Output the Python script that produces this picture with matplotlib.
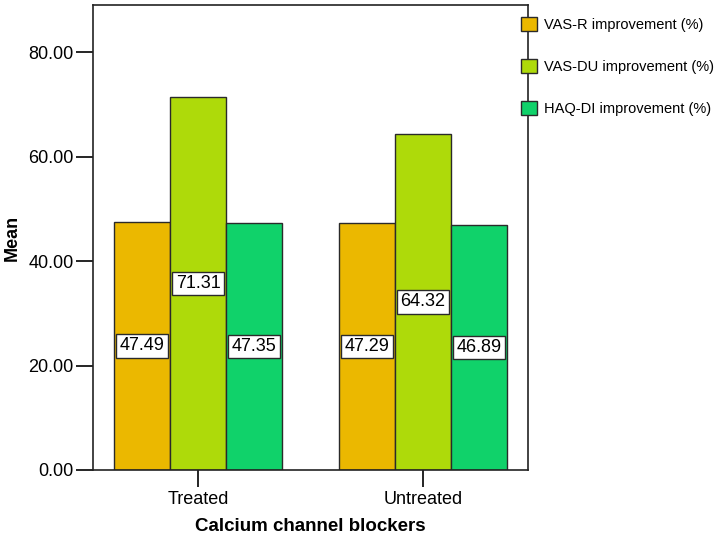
import matplotlib
matplotlib.use("Agg")
import matplotlib.pyplot as plt
import numpy as np
from matplotlib.patches import Patch

plt.rcParams['font.family'] = ['Liberation Sans', 'DejaVu Sans']

categories = ["Treated", "Untreated"]
series_names = ["VAS-R improvement (%)", "VAS-DU improvement (%)", "HAQ-DI improvement (%)"]
vas_r = [47.49, 47.29]
vas_du = [71.31, 64.32]
haq_di = [47.35, 46.89]
colors = ["#EBB800", "#AEDA0A", "#10D26A"]
yticks = [0, 20, 40, 60, 80]

W, H = 718, 538
fig = plt.figure(figsize=(W / 100, H / 100), dpi=100)
ax = fig.add_axes([93 / W, 1 - 470 / H, 435 / W, 465 / H])

x = np.arange(len(categories))
w = 0.249
for i, (vals, col) in enumerate(zip([vas_r, vas_du, haq_di], colors)):
    pos = x + (i - 1) * w
    ax.bar(pos, vals, width=w, color=col, edgecolor="#2a2a2a", linewidth=1.0, zorder=2)
    for px, v in zip(pos, vals):
        ax.text(px, v / 2, f"{v:.2f}", ha="center", va="center", fontsize=13,
                bbox=dict(boxstyle="square,pad=0.18", fc="white", ec="#2a2a2a", lw=1.0), zorder=3)

ax.set_xlim(-0.467, 1.467)
ax.set_ylim(0, 89)
ax.set_xticks(x)
ax.set_xticklabels(categories, fontsize=13)
ax.set_yticks(yticks)
ax.set_yticklabels([f"{t:.2f}" for t in yticks], fontsize=13)
ax.tick_params(axis="y", length=12, width=1.2, direction="out", pad=2)
ax.tick_params(axis="x", length=12, width=1.2, direction="out", pad=3)
for s in ax.spines.values():
    s.set_linewidth(1.2)
    s.set_color("#222222")
ax.set_xlabel("Calcium channel blockers", fontsize=13.5, fontweight="bold", labelpad=7)
ax.set_ylabel("Mean", fontsize=13, fontweight="bold")
ax.yaxis.set_label_coords(-0.165, 0.5)

fs = 10.5
fpx = fs * 100 / 72
handles = [Patch(facecolor=c, edgecolor="#2a2a2a", linewidth=1.0) for c in colors]
fig.legend(handles, series_names, loc="upper left",
           bbox_to_anchor=(520.5 / W, 1 - 17 / H),
           frameon=False, fontsize=fs, borderpad=0, borderaxespad=0,
           handlelength=16 / fpx, handleheight=16 / fpx,
           labelspacing=1.85, handletextpad=8 / fpx)

fig.savefig("out.png", dpi=100)
